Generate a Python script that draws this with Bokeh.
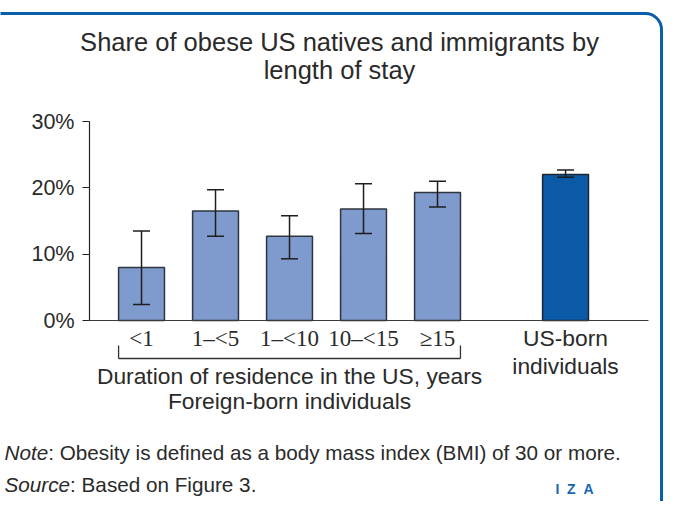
from bokeh.plotting import figure
from bokeh.models import (FixedTicker, Label, BoxAnnotation, Arrow, Whisker,
                          ColumnDataSource, TeeHead, Range1d)
from bokeh.embed import file_html
from bokeh.resources import INLINE

# ---- data ----
foreign_groups = ["<1", "1–<5", "1–<10", "10–<15", "≥15"]
foreign_share = [8.0, 16.5, 12.7, 16.8, 19.3]
foreign_low = [2.4, 12.7, 9.3, 13.1, 17.1]
foreign_high = [13.5, 19.7, 15.8, 20.6, 21.0]
native_group = "US-born individuals"
native_share = [22.0]
native_low = [21.6]
native_high = [22.7]
y_ticks = [0, 10, 20, 30]
y_tick_labels = ["0%", "10%", "20%", "30%"]

# ---- layout (pixel geometry of the chart area inside the canvas) ----
W, H = 664, 501
FL, FR, FT, FB = 89, 648, 121, 320
X0, X1 = -0.703, 6.851
Y0, Y1 = 0, 30
BAR_W = 0.62
GAP = 1.73

xf = list(range(len(foreign_groups)))
xn = [xf[-1] + GAP]


def dx(px):
    return X0 + (px - FL) / (FR - FL) * (X1 - X0)


def dy(py):
    return Y0 + (FB - py) / (FB - FT) * (Y1 - Y0)


p = figure(width=W, height=H, output_backend="svg", toolbar_location=None,
           x_range=Range1d(dx(0), dx(W)), y_range=Range1d(dy(H), dy(0)),
           min_border=0, min_border_left=0, min_border_right=0,
           min_border_top=0, min_border_bottom=0)
p.outline_line_color = None
p.grid.visible = False
p.background_fill_color = "white"
p.border_fill_color = "white"

SANS = "Liberation Sans"
TXT = "#2a2a2a"

# bars
src_f = ColumnDataSource(dict(x=xf, top=foreign_share, lo=foreign_low, hi=foreign_high))
src_n = ColumnDataSource(dict(x=xn, top=native_share, lo=native_low, hi=native_high))
p.vbar(x="x", top="top", width=BAR_W, bottom=0, source=src_f,
       fill_color="#7f9acc", line_color="#2e3440", line_width=1.5)
p.vbar(x="x", top="top", width=BAR_W, bottom=0, source=src_n,
       fill_color="#0a5aa8", line_color="#1f2630", line_width=1.5)

for s in (src_f, src_n):
    w = Whisker(base="x", upper="hi", lower="lo", source=s, level="overlay",
                line_color="#1e1e1e", line_width=1.5,
                upper_head=TeeHead(size=17, line_color="#1e1e1e", line_width=1.5),
                lower_head=TeeHead(size=17, line_color="#1e1e1e", line_width=1.5))
    p.add_layout(w)

# y axis
ya = p.yaxis[0]
ya.fixed_location = X0
ya.bounds = (Y0, Y1)
ya.ticker = FixedTicker(ticks=y_ticks)
ya.major_label_overrides = {t: l for t, l in zip(y_ticks, y_tick_labels)}
ya.major_tick_out = 7
ya.major_tick_in = 0
ya.minor_tick_line_color = None
ya.major_label_standoff = 8
ya.major_label_text_font = SANS
ya.major_label_text_font_size = "21.5px"
ya.major_label_text_color = TXT
ya.axis_line_color = "#222222"
ya.major_tick_line_color = "#222222"
ya.axis_line_width = 1.2

# x axis
xa = p.xaxis[0]
xa.fixed_location = 0
xa.bounds = (X0, X1)
xa.ticker = FixedTicker(ticks=xf)
xa.major_label_overrides = {t: l for t, l in zip(xf, foreign_groups)}
xa.major_tick_out = 0
xa.major_tick_in = 0
xa.minor_tick_line_color = None
xa.major_label_standoff = 5
xa.major_label_text_font = "Liberation Serif"
xa.major_label_text_font_size = "23px"
xa.major_label_text_color = TXT
xa.axis_line_color = "#3a3a3a"
xa.axis_line_width = 1.2


def lab(x, py, text, size, font=SANS, align="center", style="normal", color=TXT):
    # py: desired baseline in canvas pixels; compensate renderer baseline offset
    l = Label(x=x, y=dy(py - 0.4 * size), text=text, text_font=font,
              text_font_size=f"{size}px", text_align=align,
              text_baseline="alphabetic", text_color=color,
              text_font_style=style)
    p.add_layout(l)


# title
lab(dx(339), 52, "Share of obese US natives and immigrants by", 25.5)
lab(dx(339), 80, "length of stay", 25.5)

# native label
lab(xn[0], 347, "US-born", 22.8)
lab(xn[0], 375, "individuals", 22.8)

# bracket
bl = xf[0] - BAR_W / 2
br = xf[-1] + BAR_W / 2
yb_top, yb_bot = dy(345), dy(358)
for (xs, ys, xe, ye) in [(bl, yb_top, bl, yb_bot), (bl, yb_bot, br, yb_bot),
                         (br, yb_top, br, yb_bot)]:
    p.add_layout(Arrow(x_start=xs, y_start=ys, x_end=xe, y_end=ye, end=None,
                       line_color="#333333", line_width=1.3))

cx = (bl + br) / 2
lab(cx, 385, "Duration of residence in the US, years", 22.8)
lab(cx, 410, "Foreign-born individuals", 22.8)

# note / source
NS = 20.7
lab(dx(4), 460, "Note", NS, align="left", style="italic")
lab(dx(4 + 2.112 * NS), 460,
    ": Obesity is defined as a body mass index (BMI) of 30 or more.",
    NS, align="left")
lab(dx(4), 492, "Source", NS, align="left", style="italic")
lab(dx(4 + 3.168 * NS), 492, ": Based on Figure 3.", NS, align="left")

# logo
lab(dx(574), 494, "I\u00a0\u00a0Z\u00a0\u00a0A", 14, style="bold", color="#1565b5")

# frame border
p.add_layout(BoxAnnotation(left=dx(-30), right=dx(661), top=dy(13), bottom=dy(540),
                           fill_alpha=0, line_color="#0a5eab", line_alpha=1,
                           line_width=3, border_radius=16))

open("out.html", "w").write(file_html(p, INLINE))
